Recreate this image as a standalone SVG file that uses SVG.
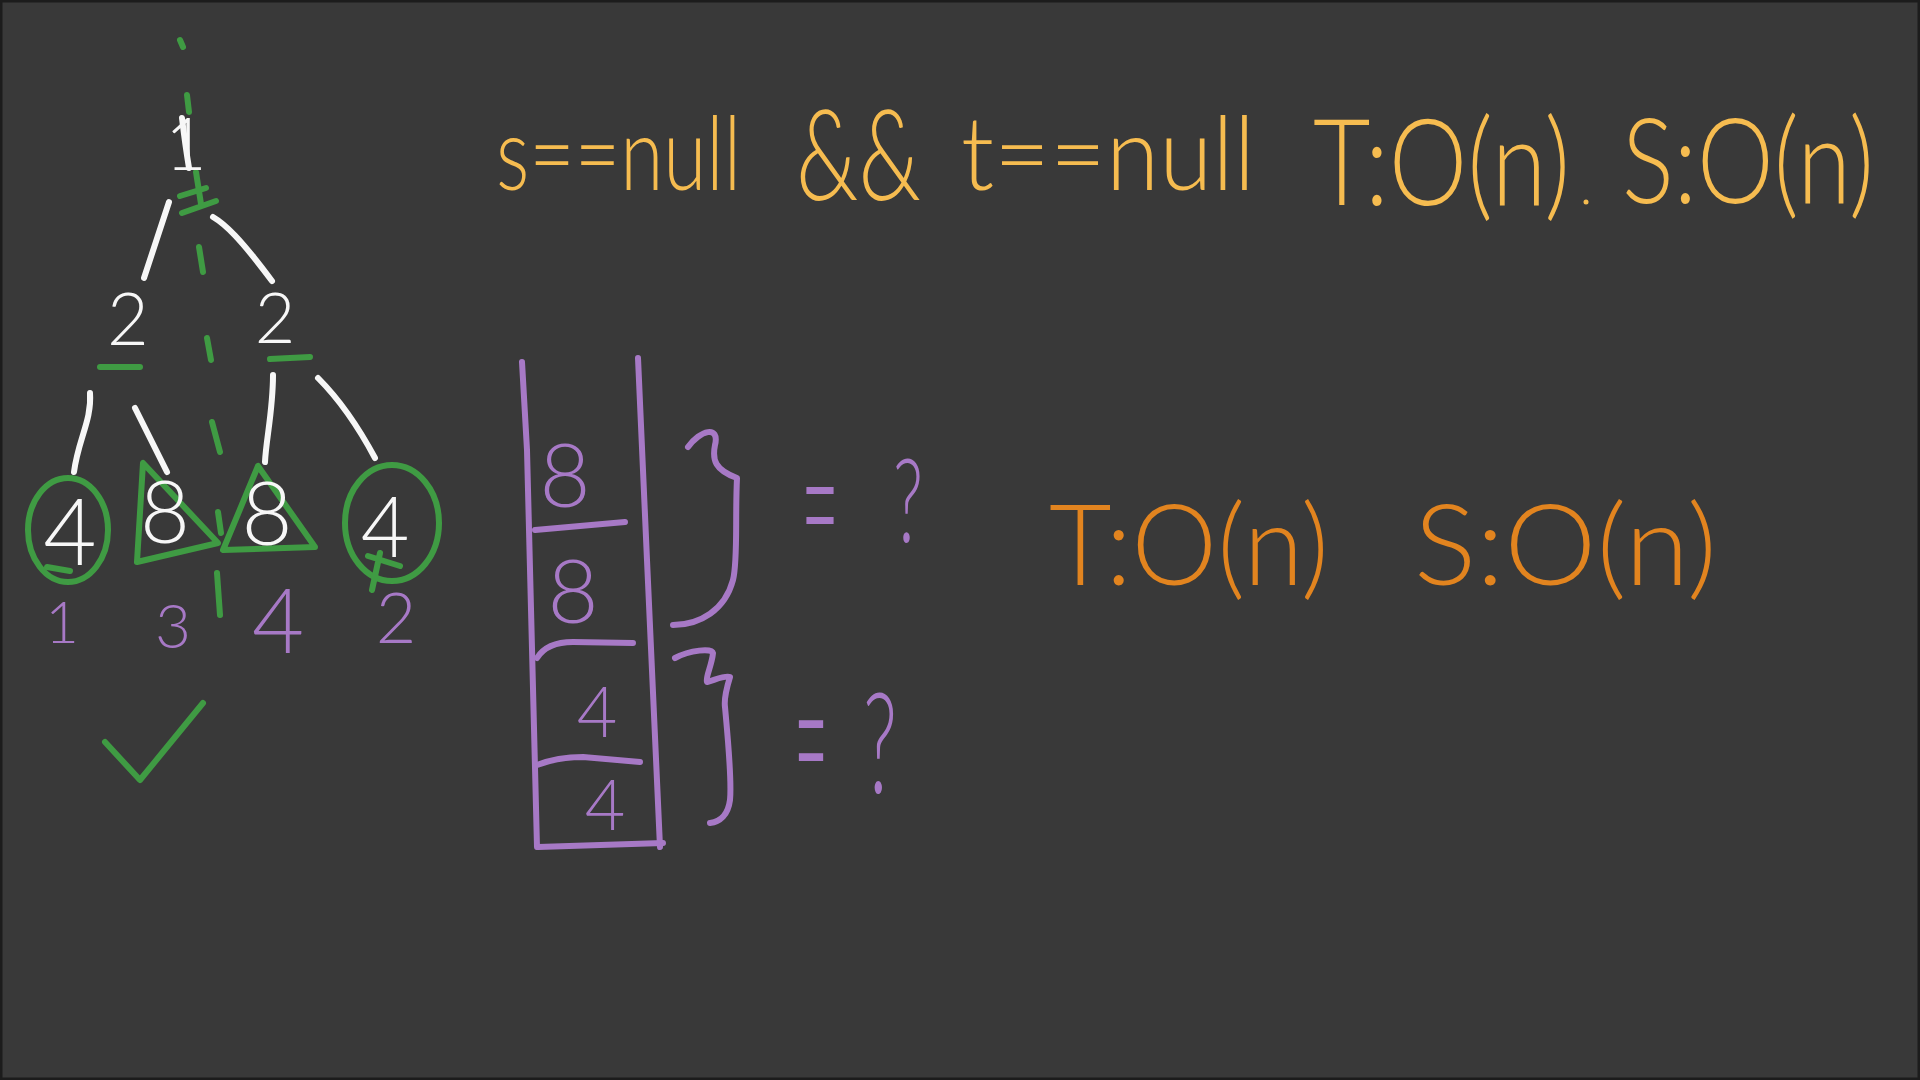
<svg xmlns="http://www.w3.org/2000/svg" width="1920" height="1080" viewBox="0 0 1920 1080">
<style>
.g{fill:none;stroke:#3f9b43;stroke-width:6;stroke-linecap:round;stroke-linejoin:round}
.w{fill:none;stroke:#f7f7f7;stroke-width:6;stroke-linecap:round;stroke-linejoin:round}
.p{fill:none;stroke:#a779c6;stroke-width:6;stroke-linecap:round;stroke-linejoin:round}
text{font-family:Lato,"Liberation Sans","DejaVu Sans",sans-serif;font-weight:300}
.tw{fill:#f7f7f7;text-anchor:middle}
.tp{fill:#a779c6;text-anchor:middle}
.ty{fill:#f6bc50}
.to{fill:#e2841f}
</style>
<rect x="0" y="0" width="1920" height="1080" fill="#393939"/>
<rect x="1" y="1" width="1918" height="1078" fill="none" stroke="#1c1c1c" stroke-width="3"/>

<g id="title">
<text class="ty" x="496" y="190" font-size="102" textLength="245" lengthAdjust="spacingAndGlyphs">s==null</text>
<text class="ty" x="796" y="200" font-size="126" textLength="125" lengthAdjust="spacingAndGlyphs">&amp;&amp;</text>
<text class="ty" x="961" y="190" font-size="102" textLength="294" lengthAdjust="spacingAndGlyphs">t==null</text>
<text class="ty" x="1313" y="205" font-size="120" textLength="257" lengthAdjust="spacingAndGlyphs">T:O(n)</text>
<circle cx="1586" cy="202" r="2.5" fill="#f6bc50"/>
<text class="ty" x="1622" y="203" font-size="118" textLength="252" lengthAdjust="spacingAndGlyphs">S:O(n)</text>
</g>

<g id="complexity">
<text class="to" x="1049" y="585" font-size="112" textLength="280" lengthAdjust="spacingAndGlyphs">T:O(n)</text>
<text class="to" x="1414" y="585" font-size="112" textLength="303" lengthAdjust="spacingAndGlyphs">S:O(n)</text>
</g>

<g id="axis">
<path class="g" d="M180,40 L183,47 M187,95 L189,112 M180,196 L206,188 M196,172 L201,204 M182,213 L216,201 M199,247 L203,272 M207,338 L211,360 M212,422 L220,452 M218,512 L221,533 M217,573 L220,615"/>
</g>

<g id="connectors">
<path class="w" d="M182,118 C184,135 186,150 189,168"/>
<path class="w" d="M169,202 L144,278"/>
<path class="w" d="M213,217 C225,224 240,238 272,281"/>
<path class="w" d="M90,393 C92,420 78,440 74,472"/>
<path class="w" d="M135,408 L167,472"/>
<path class="w" d="M273,375 C273,410 266,440 265,462"/>
<path class="w" d="M318,378 C340,400 360,430 375,458"/>
</g>

<g id="node-root">
<text class="tw" x="186" y="170" font-size="72">1</text>
</g>
<g id="node-2-left">
<text class="tw" x="128" y="345" font-size="72">2</text>
<path class="g" d="M100,367 L140,367"/>
</g>
<g id="node-2-right">
<text class="tw" x="275" y="343" font-size="70">2</text>
<path class="g" d="M270,359 L310,357"/>
</g>
<g id="node-4-left">
<ellipse class="g" cx="68" cy="530" rx="40" ry="52"/>
<path class="g" d="M47,567 L70,571"/>
<text class="tw" x="70" y="565" font-size="92">4</text>
<text class="tp" x="62" y="643" font-size="58">1</text>
</g>
<g id="node-8-left">
<path class="g" d="M143,463 L137,562 L218,543 Z"/>
<text class="tw" x="165" y="543" font-size="86">8</text>
<text class="tp" x="173" y="648" font-size="62">3</text>
</g>
<g id="node-8-right">
<path class="g" d="M258,466 L223,550 L315,547 Z"/>
<text class="tw" x="267" y="545" font-size="88">8</text>
<text class="tp" x="278" y="653" font-size="90">4</text>
</g>
<g id="node-4-right">
<ellipse class="g" cx="392" cy="523" rx="47" ry="58"/>
<path class="g" d="M368,556 L400,566 M380,553 L372,590"/>
<text class="tw" x="385" y="557" font-size="84">4</text>
<text class="tp" x="396" y="643" font-size="70">2</text>
</g>
<g id="check">
<path class="g" d="M105,742 L140,780 L203,703"/>
</g>

<g id="stack">
<path class="p" d="M522,362 L527,450 L537,847"/>
<path class="p" d="M638,358 L647,560 L660,847"/>
<path class="p" d="M538,847 L663,843"/>
<path class="p" d="M535,530 L625,522"/>
<path class="p" d="M537,658 C545,645 560,642 573,642 L633,643"/>
<path class="p" d="M537,765 C555,758 570,757 583,757 L640,762"/>
<text class="tp" x="565" y="507" font-size="88">8</text>
<text class="tp" x="573" y="623" font-size="88">8</text>
<text class="tp" x="597" y="737" font-size="70">4</text>
<text class="tp" x="605" y="830" font-size="70">4</text>
</g>

<g id="brace-top">
<path class="p" d="M688,447 C700,430 720,425 715,445 C712,460 715,470 737,478 C735,520 738,560 733,580 C725,610 700,625 673,625"/>
<text class="tp" x="820" y="570" font-size="190" textLength="38" lengthAdjust="spacingAndGlyphs">=</text>
<text class="tp" x="908" y="542" font-size="116" textLength="30" lengthAdjust="spacingAndGlyphs">?</text>
</g>
<g id="brace-bottom">
<path class="p" d="M675,658 C690,650 712,648 713,653 C712,665 705,678 707,682 C715,680 725,675 730,677 C726,690 724,700 725,707 C728,740 732,780 730,800 C728,815 720,822 710,823"/>
<text class="tp" x="811" y="812" font-size="210" textLength="34" lengthAdjust="spacingAndGlyphs">=</text>
<text class="tp" x="880" y="793" font-size="140" textLength="34" lengthAdjust="spacingAndGlyphs">?</text>
</g>
</svg>
